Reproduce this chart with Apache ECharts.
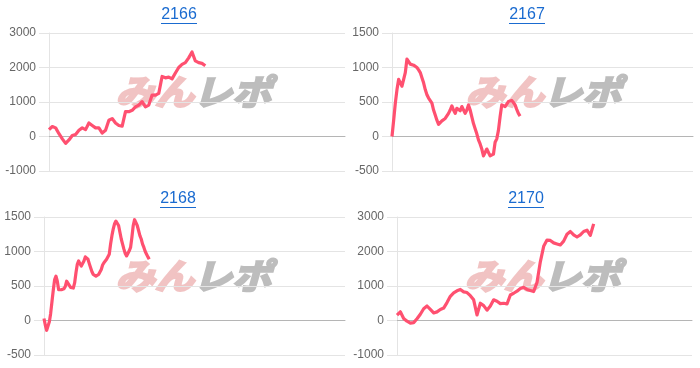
<!DOCTYPE html>
<html>
<head>
<meta charset="utf-8">
<script src="https://cdn.jsdelivr.net/npm/echarts@6/dist/echarts.min.js"></script>
<style>
html,body{margin:0;padding:0;background:#fff;}
#c{width:700px;height:368px;}
</style>
</head>
<body>
<div id="c"></div>
<script>
// ---- data ----
const titles = ['2166', '2167', '2168', '2170'];
const v2166 = [200, 290, 250, 80, -70, -200, -100, 30, 60, 180,
  250, 200, 390, 320, 250, 250, 100, 180, 470, 520,
  390, 320, 300, 720, 720, 760, 860, 910, 1010, 860,
  910, 1200, 1200, 1250, 1740, 1700, 1720, 1670, 1840, 2000,
  2090, 2140, 2280, 2450, 2190, 2140, 2120, 2050];
const v2167 = [0, 236, 483, 680, 828, 818, 729, 704, 926, 1123,
  1099, 1049, 1034, 1034, 1015, 1000, 966, 926, 852, 778,
  680, 606, 557, 532, 483, 384, 310, 236, 177, 187,
  227, 246, 261, 286, 335, 384, 443, 384, 335, 409,
  434, 374, 434, 424, 335, 384, 458, 384, 286, 187,
  113, 39, -49, -108, -182, -281, -232, -182, -207, -281,
  -305, -256, -84, -34, 89, 286, 458, 443, 434, 458,
  507, 522, 522, 493, 458, 394, 335, 296];
const v2168 = [29, -69, -142, -118, -20, 103, 275, 446, 593, 642,
  569, 446, 461, 446, 461, 461, 495, 569, 544, 510,
  480, 495, 471, 544, 691, 814, 863, 824, 789, 814,
  863, 922, 936, 887, 824, 765, 706, 667, 642, 642,
  652, 667, 691, 740, 804, 838, 863, 887, 912, 961,
  1108, 1230, 1328, 1402, 1441, 1426, 1377, 1279, 1181, 1108,
  1034, 971, 936, 961, 1010, 1059, 1206, 1377, 1461, 1441,
  1377, 1304, 1230, 1181, 1108, 1059, 1000, 961, 922, 887];
const v2170 = [155, 252, 60, -20, -75, -60, 50, 180, 340, 420,
  320, 220, 250, 320, 360, 520, 700, 800, 860, 900,
  830, 810, 720, 600, 160, 500, 430, 300, 420, 600,
  560, 490, 500, 480, 740, 790, 850, 930, 960, 900,
  870, 840, 1100, 1700, 2150, 2330, 2320, 2250, 2220, 2190,
  2300, 2500, 2580, 2480, 2420, 2480, 2580, 2620, 2470, 2800];
const seriesValues = [v2166, v2167, v2168, v2170];
const yMins = [-1000, -500, -500, -1000];
const yMaxs = [3000, 1500, 1500, 3000];
const yIntervals = [1000, 500, 500, 1000];
const xCounts = [89, 181, 226, 88.5];
const watermarkA = 'みん';
const watermarkB = 'レポ';

// ---- layout ----
const grids = [
  {left: 49, top: 33, width: 296, height: 138},
  {left: 392, top: 33, width: 301, height: 138},
  {left: 44, top: 217, width: 301, height: 138},
  {left: 397, top: 217, width: 295, height: 138}
];
const titlePos = [[179, 15], [527, 15], [178, 199], [526, 199]];
const logoCenter = [[195, 92], [545, 92], [195, 276], [544, 276]];

const chart = echarts.init(document.getElementById('c'), null, {renderer: 'canvas'});
const FONT = 'Liberation Sans, Arial, sans-serif';
const LOGO_FONT = 'italic bold 35px "Noto Sans CJK JP", "Noto Sans CJK SC", sans-serif';

const graphic = [];
titles.forEach((t, i) => {
  const [cx, cy] = titlePos[i];
  graphic.push({
    type: 'text', x: cx, y: cy, z: 10,
    style: {text: t, fill: '#1a6bd0', font: '16px ' + FONT, textAlign: 'center', textVerticalAlign: 'middle'}
  });
  graphic.push({
    type: 'line', z: 10,
    shape: {x1: cx - 18, y1: cy + 8.5, x2: cx + 18, y2: cy + 8.5},
    style: {stroke: '#1a6bd0', lineWidth: 1}
  });
  const [lx, ly] = logoCenter[i];
  graphic.push({
    type: 'text', x: lx - 1, y: ly, z: -10, scaleX: 1.12, silent: true,
    style: {text: watermarkA, fill: '#f1c3c3', stroke: '#f1c3c3', lineWidth: 2.4, font: LOGO_FONT, textAlign: 'right', textVerticalAlign: 'middle'}
  });
  graphic.push({
    type: 'text', x: lx - 2, y: ly, z: -10, scaleX: 1.12, silent: true,
    style: {text: watermarkB, fill: '#bdbdbd', stroke: '#bdbdbd', lineWidth: 2.4, font: LOGO_FONT, textAlign: 'left', textVerticalAlign: 'middle'}
  });
});

const option = {
  animation: false,
  backgroundColor: '#fff',
  grid: grids,
  xAxis: grids.map((g, i) => ({
    type: 'value', gridIndex: i, min: 0, max: xCounts[i],
    axisLine: {show: true, onZero: true, lineStyle: {color: '#b5b5b5', width: 1}},
    axisTick: {show: false}, axisLabel: {show: false}, splitLine: {show: false}
  })),
  yAxis: grids.map((g, i) => ({
    type: 'value', gridIndex: i, min: yMins[i], max: yMaxs[i], interval: yIntervals[i],
    axisLine: {show: true, lineStyle: {color: '#e4e4e4'}},
    axisTick: {show: true, length: 10, lineStyle: {color: '#e4e4e4'}},
    axisLabel: {color: '#666', fontSize: 12, margin: 13, fontFamily: FONT, formatter: v => String(v)},
    splitLine: {show: true, lineStyle: {color: '#e4e4e4'}}
  })),
  series: seriesValues.map((vals, i) => ({
    type: 'line', xAxisIndex: i, yAxisIndex: i, z: 5,
    data: vals.map((v, k) => [k, v]),
    showSymbol: false, symbol: 'none', smooth: false,
    lineStyle: {color: '#ff5070', width: 3.2, join: 'round'}
  })),
  graphic: graphic
};
chart.setOption(option);
</script>
</body>
</html>
